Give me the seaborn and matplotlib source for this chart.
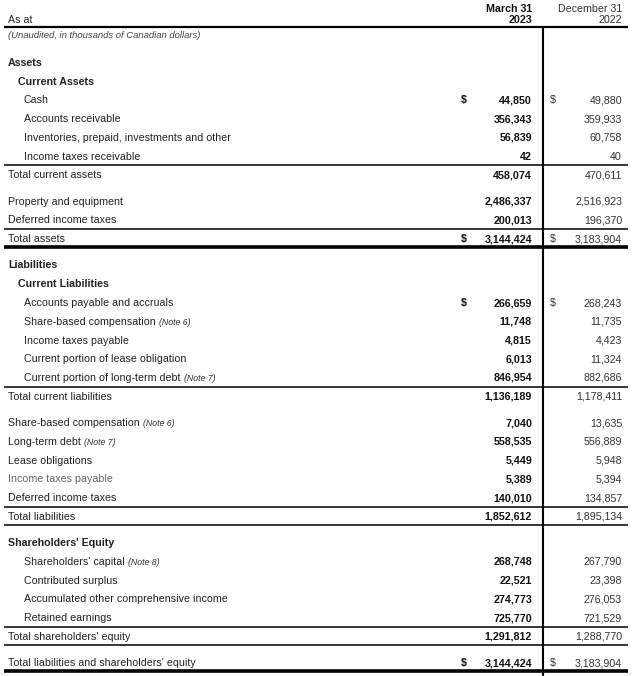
import matplotlib
matplotlib.use('Agg')
import matplotlib.pyplot as plt
import seaborn as sns

# Balance sheet rows (in thousands of Canadian dollars)
labels = [
    "Assets", "Current Assets", "Cash", "Accounts receivable",
    "Inventories, prepaid, investments and other", "Income taxes receivable",
    "Total current assets", "Property and equipment", "Deferred income taxes",
    "Total assets", "Liabilities", "Current Liabilities",
    "Accounts payable and accruals", "Share-based compensation",
    "Income taxes payable", "Current portion of lease obligation",
    "Current portion of long-term debt", "Total current liabilities",
    "Share-based compensation", "Long-term debt", "Lease obligations",
    "Income taxes payable", "Deferred income taxes", "Total liabilities",
    "Shareholders' Equity", "Shareholders' capital", "Contributed surplus",
    "Accumulated other comprehensive income", "Retained earnings",
    "Total shareholders' equity", "Total liabilities and shareholders' equity",
]
notes = {13: "(Note 6)", 16: "(Note 7)", 18: "(Note 6)", 19: "(Note 7)", 25: "(Note 8)"}
# 0 = flush left, 1 = sub-heading, 2 = indented item
levels = [0, 1, 2, 2, 2, 2, 0, 0, 0, 0, 0, 1, 2, 2, 2, 2, 2, 0,
          0, 0, 0, 0, 0, 0, 0, 2, 2, 2, 2, 0, 0]
headings = [0, 1, 10, 11, 24]
dollar_rows = [2, 9, 12, 30]

march_2023 = [None, None, 44850, 356343, 56839, 42, 458074, 2486337, 200013,
              3144424, None, None, 266659, 11748, 4815, 6013, 846954, 1136189,
              7040, 558535, 5449, 5389, 140010, 1852612, None, 268748, 22521,
              274773, 725770, 1291812, 3144424]
dec_2022 = [None, None, 49880, 359933, 60758, 40, 470611, 2516923, 196370,
            3183904, None, None, 268243, 11735, 4423, 11324, 882686, 1178411,
            13635, 556889, 5948, 5394, 134857, 1895134, None, 267790, 23398,
            276053, 721529, 1288770, 3183904]

# layout
gap_before = [7, 10, 18, 24, 30]
line_above = [6, 9, 17, 23, 29]
thin_below = [23, 29]
thick_below = [9, 30]

sns.set_theme(style="white")
plt.rcParams['font.family'] = ['Liberation Sans', 'DejaVu Sans']

fig = plt.figure(figsize=(6.4, 6.76), dpi=100)
ax = fig.add_axes([0, 0, 1, 1])
ax.set_xlim(0, 640)
ax.set_ylim(676, 0)
ax.axis('off')

FS = 7.7
BASE = 3.8  # baseline offset from row centre, px
indent = {0: 8, 1: 18, 2: 24}
x_left, x_right = 4, 628
x_mar_num, x_mar_sign = 532, 461
x_dec_num, x_dec_sign = 622, 550
x_vline = 543

ys = []
gaps = 0
for i in range(len(labels)):
    if i in gap_before:
        gaps += 7.6
    ys.append(62 + i * 18.75 + gaps)


def put(x, y, s, **kw):
    kw.setdefault('fontsize', FS)
    return ax.text(x, y + BASE, s, va='baseline', **kw)


# header
put(8, 19, "As at", color='#222')
put(x_mar_num, 8, "March 31", fontweight='bold', ha='right', color='#111')
put(x_mar_num, 19, "2023", fontweight='bold', ha='right', color='#111')
put(x_dec_num, 8, "December 31", ha='right', color='#333')
put(x_dec_num, 19, "2022", ha='right', color='#333')
put(8, 34, "(Unaudited, in thousands of Canadian dollars)", fontsize=6.8,
    style='italic', color='#444')
ax.hlines(27, x_left, x_right, color='black', lw=1.6)
ax.vlines(x_vline, 27, 676, color='black', lw=1.5)

for i, lab in enumerate(labels):
    yy = ys[i]
    bold = i in headings
    col = '#666' if i == 21 else '#222'
    t = put(indent[levels[i]], yy, lab, fontweight='bold' if bold else 'normal', color=col)
    if i in notes:
        ax.annotate(notes[i], xy=(1, 0), xycoords=t, xytext=(2.5, 0),
                    textcoords='offset points', fontsize=6.3, style='italic',
                    va='bottom', color='#333')
    if march_2023[i] is not None:
        put(x_mar_num, yy, f"{march_2023[i]:,}", fontweight='bold', ha='right', color='#111')
        put(x_dec_num, yy, f"{dec_2022[i]:,}", ha='right', color='#333')
    if i in dollar_rows:
        put(x_mar_sign, yy, "$", fontweight='bold', color='#111')
        put(x_dec_sign, yy, "$", color='#333')

for i in line_above:
    ax.hlines((ys[i - 1] + ys[i]) / 2, x_left, x_right, color='black', lw=1.1)
for i in thin_below:
    ax.hlines(ys[i] + 8.5, x_left, x_right, color='black', lw=1.1)
for i in thick_below:
    ax.hlines(ys[i] + 8.2, x_left, x_right, color='black', lw=2.6)

fig.savefig('out.png', dpi=100, facecolor='white')
